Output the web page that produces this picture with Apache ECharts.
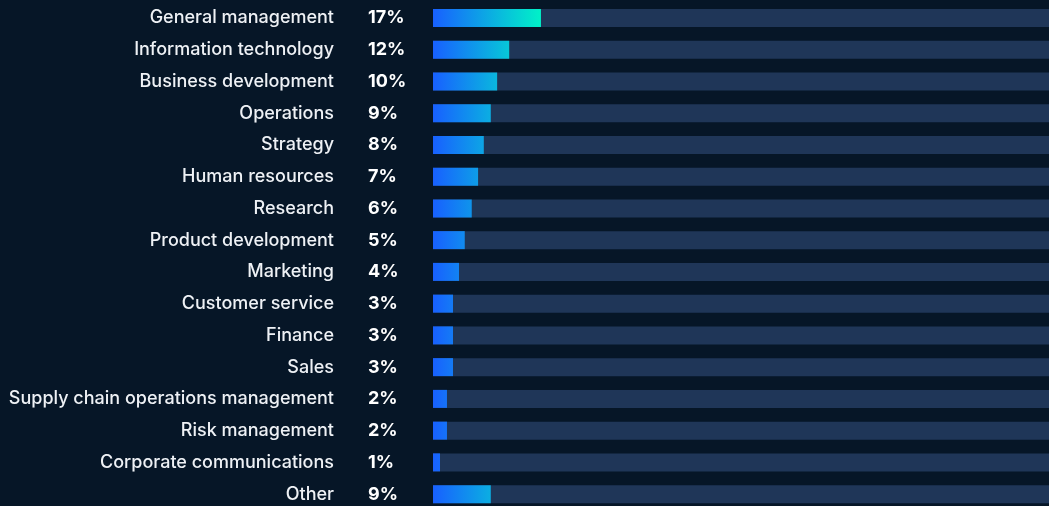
<!DOCTYPE html>
<html>
<head>
<meta charset="utf-8">
<script src="https://cdn.jsdelivr.net/npm/echarts@6/dist/echarts.min.js"></script>
<style>
html,body{margin:0;padding:0;background:#061627;}
#chart{width:1049px;height:506px;}
</style>
</head>
<body>
<div id="chart"></div>
<script>
const categories = ["General management","Information technology","Business development","Operations","Strategy","Human resources","Research","Product development","Marketing","Customer service","Finance","Sales","Supply chain operations management","Risk management","Corporate communications","Other"];
const values = [17.0, 12.0, 10.1, 9.1, 8.0, 7.1, 6.1, 5.0, 4.1, 3.15, 3.15, 3.15, 2.2, 2.2, 1.1, 9.1];
const percentLabels = ["17%","12%","10%","9%","8%","7%","6%","5%","4%","3%","3%","3%","2%","2%","1%","9%"];

const startColor = [0x18, 0x60, 0xff];
const endColor = [0x00, 0xf2, 0xc8];
const maxVal = Math.max(...values);
function mix(t){
  const c = startColor.map((s,i)=>Math.round(s + (endColor[i]-s)*t));
  return 'rgb(' + c.join(',') + ')';
}
const chart = echarts.init(document.getElementById('chart'));
const fontFamily = 'Inter, "Noto Sans", sans-serif';
chart.setOption({
  backgroundColor: '#061627',
  animation: false,
  grid: {left: 433, width: 635, top: 2, bottom: -4, containLabel: false, outerBoundsMode: 'none'},
  xAxis: {type: 'value', min: 0, max: 100, show: false},
  yAxis: [
    {type: 'category', data: categories, inverse: true,
     axisLine: {show: false}, axisTick: {show: false}, splitLine: {show: false},
     axisLabel: {color: '#eef1f5', fontSize: 18, fontWeight: 500, fontFamily: fontFamily, margin: 99}},
    {type: 'category', data: percentLabels, inverse: true, position: 'left', offset: 0,
     axisLine: {show: false}, axisTick: {show: false}, splitLine: {show: false},
     axisLabel: {color: '#ffffff', fontSize: 18, fontWeight: 'bold', fontFamily: fontFamily, margin: 65, align: 'left'}}
  ],
  series: [{
    type: 'bar',
    yAxisIndex: 0,
    barWidth: 18,
    showBackground: true,
    backgroundStyle: {color: '#1f3658'},
    data: values.map(v => ({
      value: v,
      itemStyle: {color: new echarts.graphic.LinearGradient(0,0,1,0,[
        {offset: 0, color: mix(0)}, {offset: 1, color: mix(v/maxVal)}])}
    }))
  }]
});
</script>
</body>
</html>
